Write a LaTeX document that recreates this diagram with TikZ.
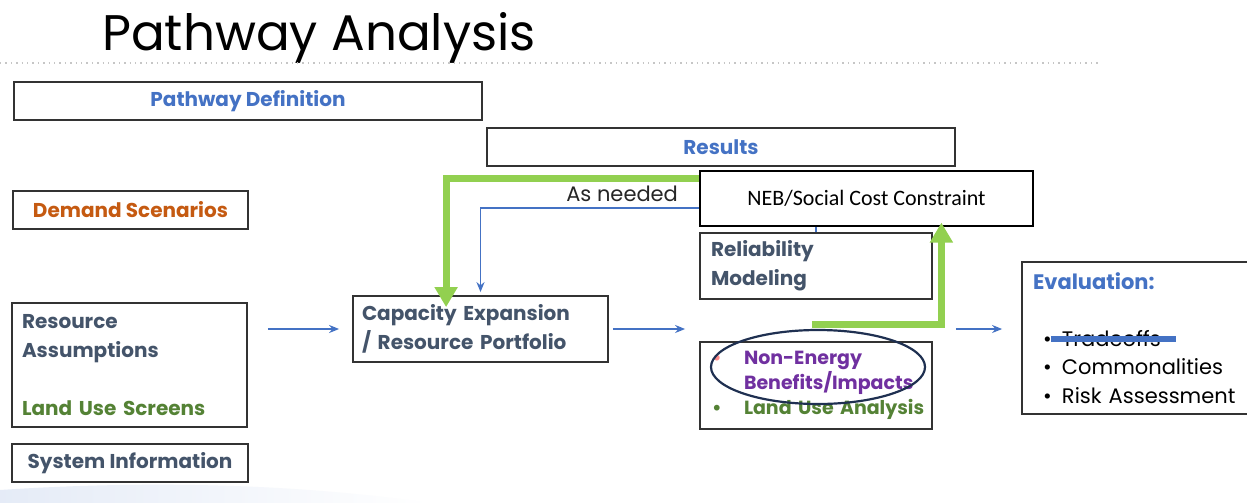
\documentclass[tikz,border=0pt]{standalone}
\usepackage{fontspec}
\setmainfont{Poppins}
\newfontfamily\calibri{Carlito}
\usetikzlibrary{arrows.meta,calc,shapes.geometric}
\definecolor{defblue}{HTML}{4472C4}
\definecolor{demandorange}{HTML}{C55A11}
\definecolor{slate}{HTML}{44546A}
\definecolor{landgreen}{HTML}{548235}
\definecolor{nebpurple}{HTML}{7030A0}
\definecolor{limegreen}{HTML}{92D050}
\definecolor{ringnavy}{HTML}{1F3051}
\tikzset{box/.style={draw=black!80,line width=0.9pt,fill=white,inner sep=0pt},
    boxtext/.style={font=\bfseries\fontsize{10}{14.5}\selectfont},
    lefttext/.style={align=left,inner xsep=5pt},
    flow/.style={draw=defblue,line width=0.8pt,-{Stealth[length=5pt,width=4pt]}},
    greenflow/.style={draw=limegreen,line width=3.5pt,-{Triangle[length=10pt,width=11pt]}}}
\begin{document}
\begin{tikzpicture}[x=0.5pt,y=-0.5pt]
\clip (0,0) rectangle (1247,503);
\fill[white] (0,0) rectangle (1247,503);
\shade[left color=defblue!14, right color=white] (0,503) -- (0,490) .. controls (150,480) and (300,484) .. (430,503) -- cycle;
% title
\node[font=\fontsize{25}{28}\selectfont,anchor=base west] (title) at (95,50) {Pathway Analysis};
\draw[gray!45,dotted,line width=0.7pt] (0,63) -- (1100,63);
% boxes
\node[box,boxtext,text=defblue,minimum width=234pt,minimum height=19pt] (pdef) at (248,101) {Pathway Definition};
\node[box,boxtext,text=defblue,minimum width=234pt,minimum height=19pt] (res) at (721,147) {Results};
\node[box,boxtext,text=demandorange,minimum width=117.5pt,minimum height=19pt] (demand) at (130.5,210) {Demand Scenarios};
\node[box,boxtext,lefttext,text width=107.5pt,minimum height=62pt] (resrc) at (129.5,365)
    {\textcolor{slate}{Resource}\\\textcolor{slate}{Assumptions}\\\mbox{}\\\textcolor{landgreen}{Land Use Screens}};
\node[box,boxtext,text=slate,minimum width=118pt,minimum height=19pt] (sysinfo) at (130,463) {System Information};
\node[box,boxtext,lefttext,text=slate,inner xsep=4.5pt,text width=118.5pt,minimum height=33pt] (cap) at (480.5,329)
    {Capacity Expansion\\/ Resource Portfolio};
\node[box,boxtext,lefttext,text=slate,inner xsep=5.5pt,text width=105pt,minimum height=33pt] (rel) at (816,266)
    {Reliability\\Modeling};
\node[box,font=\bfseries\fontsize{9.5}{12.5}\selectfont,lefttext,inner xsep=2pt,text width=112pt,minimum height=43.5pt] (nonen) at (816,385.5)
    {\hspace*{4pt}\makebox[16pt][l]{\textcolor{red!45}{\textbullet}}\textcolor{nebpurple}{Non-Energy}\\
     \hspace*{4pt}\makebox[16pt][l]{}\textcolor{nebpurple}{Benefits/Impacts}\\
     \hspace*{4pt}\makebox[16pt][l]{\textcolor{landgreen}{\textbullet}}\mbox{\textcolor{landgreen}{Land Use Analysis}}};
\node[box,font=\fontsize{10.5}{14.25}\selectfont,lefttext,inner xsep=5.5pt,text width=104pt,minimum height=76pt] (eval) at (1137,338)
    {\textcolor{defblue}{\bfseries Evaluation:}\\\mbox{}\\
     \makebox[14.5pt][l]{\hspace{5pt}\textbullet}Tradeoffs\llap{\textcolor{defblue}{\rule[2.3pt]{62.5pt}{3pt}}\hspace{-7.5pt}}\\
     \makebox[14.5pt][l]{\hspace{5pt}\textbullet}Commonalities\\
     \makebox[14.5pt][l]{\hspace{5pt}\textbullet}Risk Assessment};
% connectors
\draw[flow,shorten <=10pt,shorten >=6.5pt] (resrc.east |- cap.west) -- (cap.west);
\draw[flow,shorten <=2pt,shorten >=7pt] (cap.east) -- (rel.west |- cap.east);
\draw[flow,shorten <=11.5pt,shorten >=9.5pt] (rel.east |- cap.east) -- (eval.west |- cap.east);
\draw[flow,shorten >=1.5pt] (rel.north) -- ++(0,-24) coordinate (turn) -| (cap.north);
\node[font=\fontsize{10.5}{12}\selectfont,text=black!85,anchor=base east] (asneed) at (685,201) {As needed};
% green overlay
\coordinate (gstart) at (700,178);
\draw[greenflow,shorten >=-6pt] (gstart) -| ($(cap.north west)+(94,0)$);
\node[box,draw=black,line width=0.6pt,font=\calibri\fontsize{11}{13}\selectfont,minimum width=166.5pt,minimum height=27.5pt] (neb) at (866.5,198.5)
    {NEB/Social Cost Constraint};
\coordinate (gstart2) at (812,324);
\draw[greenflow,shorten >=-2pt] (gstart2) -| ($(neb.south west)+(242,0)$);
\node[ellipse,draw=ringnavy,line width=1.1pt,minimum width=107pt,minimum height=37pt] (ring) at (818,367) {};
\end{tikzpicture}
\end{document}
